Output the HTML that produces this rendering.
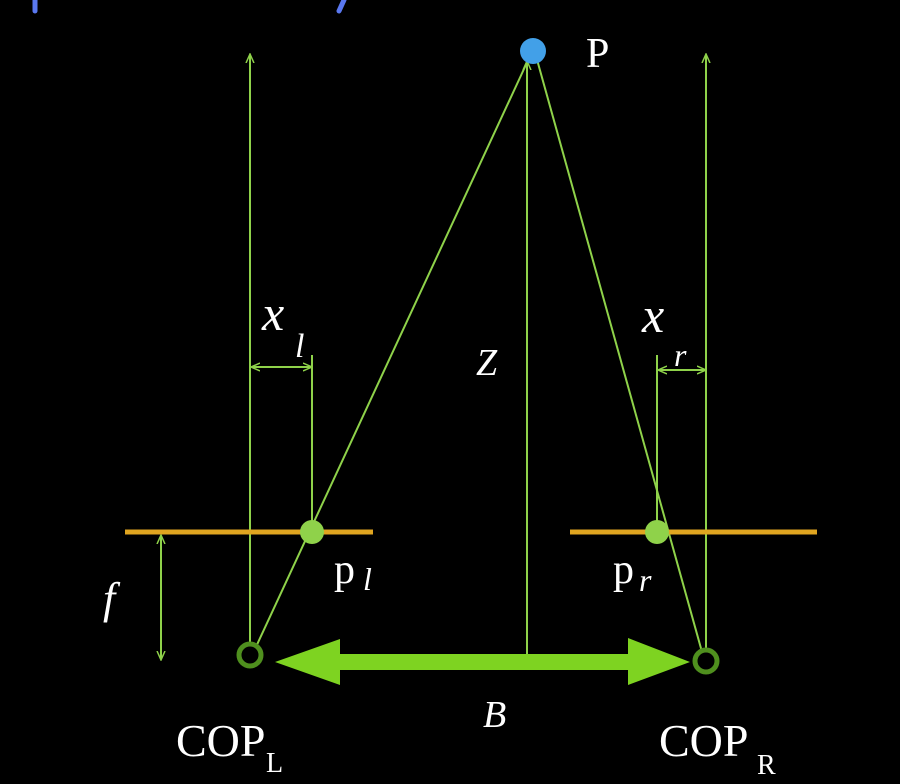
<!DOCTYPE html>
<html><head><meta charset="utf-8"><style>
html,body{margin:0;padding:0;background:#000;width:900px;height:784px;overflow:hidden}
text{font-family:"Liberation Serif",serif;fill:#fff}
</style></head><body>
<svg width="900" height="784" viewBox="0 0 900 784">
<defs>
<marker id="ah" markerWidth="10" markerHeight="10" refX="8" refY="5" orient="auto-start-reverse" markerUnits="userSpaceOnUse"><path d="M0,1 L9,5 L0,9" fill="none" stroke="#8fd24a" stroke-width="1.5"/></marker>
</defs>
<g stroke="#5a78f0" stroke-width="5" stroke-linecap="round">
<line x1="35" y1="0" x2="35" y2="11"/><line x1="344" y1="0" x2="339" y2="11"/>
</g>
<g stroke="#8fd24a" stroke-width="2" fill="none">
<line x1="250" y1="648" x2="250" y2="55" marker-end="url(#ah)"/>
<line x1="706" y1="652" x2="706" y2="55" marker-end="url(#ah)"/>
<line x1="527" y1="655" x2="527" y2="62" marker-end="url(#ah)"/>
<line x1="530" y1="56" x2="255" y2="649"/>
<line x1="536" y1="56" x2="702" y2="652"/>
<line x1="161" y1="536" x2="161" y2="659" marker-start="url(#ah)" marker-end="url(#ah)"/>
<line x1="312" y1="355" x2="312" y2="532"/>
<line x1="252" y1="367" x2="311" y2="367" marker-start="url(#ah)" marker-end="url(#ah)"/>
<line x1="657" y1="355" x2="657" y2="532"/>
<line x1="659" y1="370" x2="705" y2="370" marker-start="url(#ah)" marker-end="url(#ah)"/>
</g>
<line x1="125" y1="532" x2="373" y2="532" stroke="#e0a520" stroke-width="5"/>
<line x1="570" y1="532" x2="817" y2="532" stroke="#e0a520" stroke-width="5"/>
<circle cx="312" cy="532" r="12" fill="#8fd24a"/>
<circle cx="657" cy="532" r="12" fill="#8fd24a"/>
<circle cx="533" cy="51" r="13" fill="#42a0e8"/>
<path d="M275,662 L340,639 L340,654 L628,654 L628,638 L690,662 L628,685 L628,670 L340,670 L340,685 Z" fill="#7ed321"/>
<circle cx="250" cy="655" r="11" fill="#000" stroke="#4f8f1e" stroke-width="5"/>
<circle cx="706" cy="661" r="11" fill="#000" stroke="#4f8f1e" stroke-width="5"/>
<text x="586" y="67" font-size="42">P</text>
<text x="262" y="330" font-size="50" font-style="italic">x</text>
<text x="295" y="357" font-size="34" font-style="italic">l</text>
<text x="476" y="375" font-size="38" font-style="italic">Z</text>
<text x="642" y="332" font-size="50" font-style="italic">x</text>
<text x="674" y="366" font-size="32" font-style="italic">r</text>
<text x="334" y="583" font-size="42">p</text>
<text x="363" y="590" font-size="32" font-style="italic">l</text>
<text x="613" y="583" font-size="42">p</text>
<text x="639" y="591" font-size="32" font-style="italic">r</text>
<text x="103" y="613" font-size="44" font-style="italic">f</text>
<text x="483" y="727" font-size="38" font-style="italic">B</text>
<text x="176" y="756" font-size="46">COP</text>
<text x="266" y="772" font-size="28">L</text>
<text x="659" y="756" font-size="46">COP</text>
<text x="757" y="774" font-size="28">R</text>
</svg>
</body></html>
